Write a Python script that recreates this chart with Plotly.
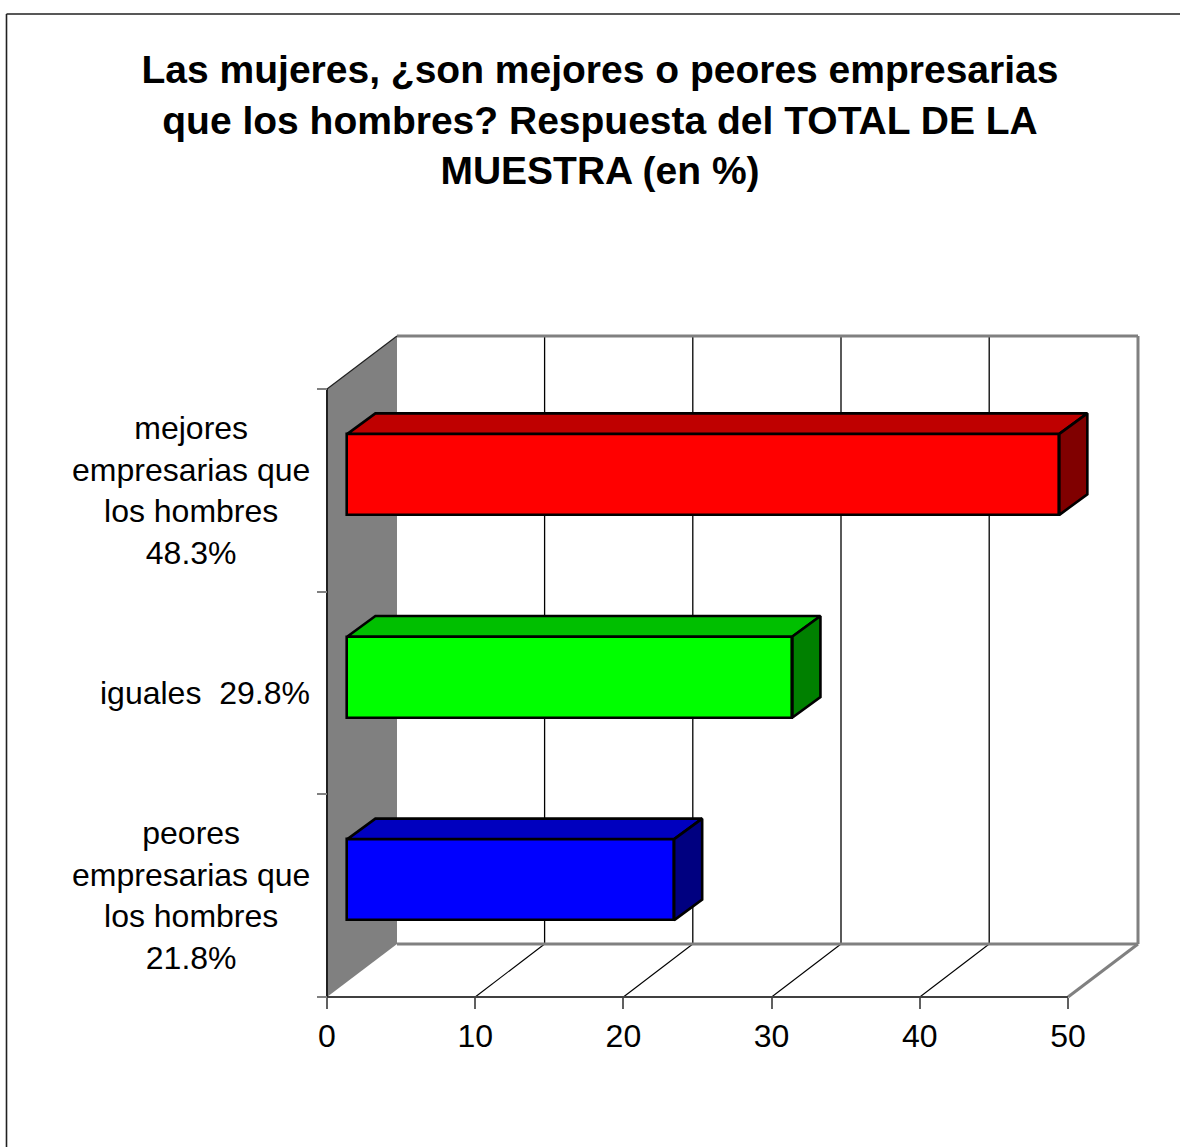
import plotly.graph_objects as go

title_text = "Las mujeres, ¿son mejores o peores empresarias<br>que los hombres? Respuesta del TOTAL DE LA<br>MUESTRA (en %)"
categories = ["peores<br>empresarias que<br>los hombres<br>21.8%",
              "iguales  29.8%",
              "mejores<br>empresarias que<br>los hombres<br>48.3%"]
bar_values = [22.05, 30.03, 48.04]
front_colors = ["#0000FF", "#00FF00", "#FF0000"]
top_colors = ["#0000BF", "#00BF00", "#BF0000"]
side_colors = ["#000080", "#008000", "#800000"]
x_ticks = [0, 10, 20, 30, 40, 50]

W, H = 1180, 1147
# plot area and scale
L, R, T, B = 300, 1160, 320, 1010
X0_PX, Y0_PX = 327, 997
PX_X = 14.82
PX_Y = 202.67
xr = [(L - X0_PX) / PX_X, (R - X0_PX) / PX_X]
yr = [(Y0_PX - B) / PX_Y, (Y0_PX - T) / PX_Y]
XMAX = 50
YMAX = 3
DX, DY = 70 / PX_X, 53 / PX_Y           # wall depth
GDX = 69.4 / PX_X                       # grid line depth
BX0, BYS = 20.4 / PX_X, 16 / PX_Y       # bar offset from front plane
BDX, BDY = 28 / PX_X, 20.5 / PX_Y       # bar depth
BAR_W = 81 / PX_Y
FS = 32
FONT = "Liberation Sans, Arial, sans-serif"
GRAY = "#808080"
EDGE = 2.6

fig = go.Figure()
shapes = []


def seg(x0, y0, x1, y1, color, width):
    shapes.append(dict(type="line", xref="x", yref="y", x0=x0, y0=y0, x1=x1, y1=y1,
                       line=dict(color=color, width=width), layer="below"))


# side wall
shapes.append(dict(type="path", xref="x", yref="y", layer="below",
                   path=f"M0,0 L{DX},{DY} L{DX},{YMAX + DY} L0,{YMAX} Z",
                   fillcolor=GRAY, line=dict(width=0)))
# grid on back wall and floor
for t in x_ticks[1:-1]:
    seg(t + GDX, DY, t + GDX, YMAX + DY, "#000000", 1.3)
    seg(t, 0, t + GDX, DY, "#000000", 1.1)
# wall and floor edges
seg(DX, YMAX + DY, XMAX + DX, YMAX + DY, GRAY, 3)
seg(XMAX + DX, DY, XMAX + DX, YMAX + DY, GRAY, 3)
seg(DX, DY, XMAX + DX, DY, GRAY, 3)
seg(XMAX, 0, XMAX + DX, DY, GRAY, 3)
seg(0, 0, XMAX, 0, "#404040", 2)
seg(0, 0, 0, YMAX, "#202020", 2)
seg(0, YMAX, DX, YMAX + DY, "#202020", 1.2)

# bars: front faces
ypos = [i + 0.5 + BYS for i in range(len(bar_values))]
fig.add_trace(go.Bar(y=ypos, x=bar_values, base=BX0, width=BAR_W, orientation="h",
                     marker=dict(color=front_colors, line=dict(color="#000000", width=EDGE)),
                     hoverinfo="skip", showlegend=False))
# bars: top and side faces
for v, yc, tc, sc in zip(bar_values, ypos, top_colors, side_colors):
    x0, x1 = BX0, BX0 + v
    y0, y1 = yc - BAR_W / 2, yc + BAR_W / 2
    fig.add_trace(go.Scatter(x=[x0, x0 + BDX, x1 + BDX, x1, x0],
                             y=[y1, y1 + BDY, y1 + BDY, y1, y1],
                             mode="lines", fill="toself", fillcolor=tc,
                             line=dict(color="#000000", width=EDGE), hoverinfo="skip", showlegend=False))
    fig.add_trace(go.Scatter(x=[x1, x1 + BDX, x1 + BDX, x1, x1],
                             y=[y1, y1 + BDY, y0 + BDY, y0, y1],
                             mode="lines", fill="toself", fillcolor=sc,
                             line=dict(color="#000000", width=EDGE), hoverinfo="skip", showlegend=False))

# frame, left and top only (the page cuts the others)
pw, ph = R - L, B - T
fx = (6.5 - L) / pw
fy = (B - 14) / ph
shapes.append(dict(type="line", xref="paper", yref="paper", x0=fx, y0=fy, x1=fx, y1=(B - H - 5) / ph,
                   line=dict(color="#202020", width=1.6)))
shapes.append(dict(type="line", xref="paper", yref="paper", x0=fx, y0=fy, x1=(W + 5 - L) / pw, y1=fy,
                   line=dict(color="#202020", width=1.6)))

annotations = [dict(x=-15 / PX_X, y=i + 0.5, xref="x", yref="y", xanchor="right", yanchor="middle",
                    text=c, showarrow=False, align="center", font=dict(size=FS, color="#000000"))
               for i, c in enumerate(categories)]

fig.update_layout(
    width=W, height=H, autosize=False,
    margin=dict(l=L, r=W - R, t=T, b=H - B, pad=0),
    paper_bgcolor="#FFFFFF", plot_bgcolor="#FFFFFF",
    font=dict(family=FONT, size=FS, color="#000000"),
    showlegend=False, bargap=0,
    title=dict(text=title_text, x=600 / W, xanchor="center", xref="container",
               y=1 - 83 / H, yanchor="top", yref="container",
               font=dict(size=39, color="#000000", family=FONT, weight="bold")),
    xaxis=dict(range=xr, anchor="free", position=(B - Y0_PX) / ph, tickmode="array",
               tickvals=x_ticks, ticktext=[str(t) for t in x_ticks],
               ticks="outside", ticklen=11, tickwidth=1.5, tickcolor="#606060",
               showgrid=False, zeroline=False, showline=False, tickfont=dict(size=FS)),
    yaxis=dict(range=yr, anchor="free", position=(X0_PX - L) / pw, tickmode="array",
               tickvals=[0, 1, 2, 3], ticktext=["", "", "", ""],
               ticks="outside", ticklen=10, tickwidth=1.5, tickcolor="#808080",
               showgrid=False, zeroline=False, showline=False),
    shapes=shapes, annotations=annotations,
)

fig.write_html("out.html", config=dict(displayModeBar=False),
               post_script="document.body.style.margin='0';document.documentElement.style.overflow='hidden';")
